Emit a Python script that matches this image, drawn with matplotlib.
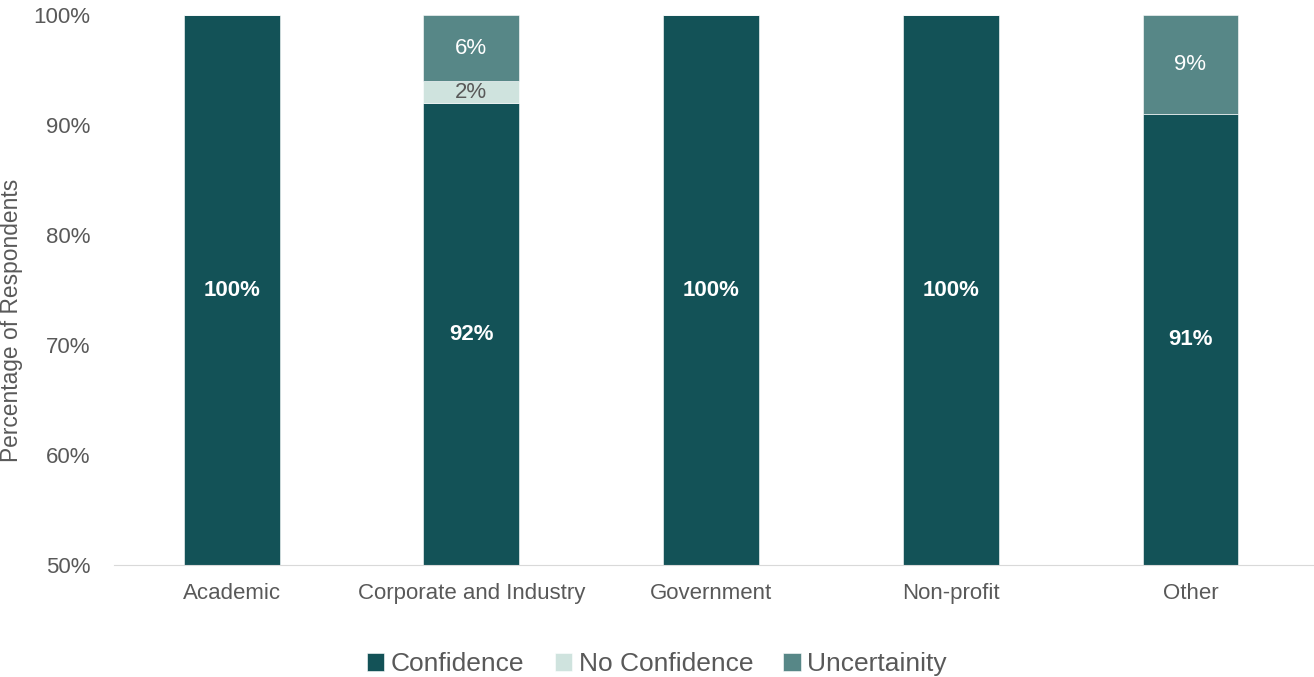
import numpy as np
import matplotlib.pyplot as plt
from matplotlib.ticker import PercentFormatter

categories = ['Academic', 'Corporate and Industry', 'Government', 'Non-profit', 'Other']
confidence = [100, 92, 100, 100, 91]
no_confidence = [0, 2, 0, 0, 0]
uncertainty = [0, 6, 0, 0, 9]

colors = {'Confidence': '#135257', 'No Confidence': '#cfe3de', 'Uncertainity': '#578787'}
text_gray = '#595959'

plt.rcParams['font.family'] = ['Liberation Sans', 'DejaVu Sans']
fs = 16

fig = plt.figure(figsize=(13.14, 6.77), dpi=100)
ax = fig.add_axes([0.087, 0.1654, 0.912, 0.8124])

x = np.arange(len(categories))
w = 0.4
conf = np.array(confidence)
noc = np.array(no_confidence)
unc = np.array(uncertainty)

ax.bar(x, conf, w, color=colors['Confidence'], label='Confidence', edgecolor='white', linewidth=0.4)
ax.bar(x, noc, w, bottom=conf, color=colors['No Confidence'], label='No Confidence',
       edgecolor='white', linewidth=0.4)
ax.bar(x, unc, w, bottom=conf + noc, color=colors['Uncertainity'], label='Uncertainity',
       edgecolor='white', linewidth=0.4)

ymin, ymax = 50, 100
ax.set_ylim(ymin, ymax)
ax.set_xlim(-0.49, 4.51)

# segment labels, centred on the visible part of each segment
for i in range(len(categories)):
    mid = (ymin + conf[i]) / 2
    ax.text(x[i], mid, f'{conf[i]}%', ha='center', va='center', color='white',
            fontsize=fs, fontweight='bold')
    if noc[i] > 0:
        ax.text(x[i], conf[i] + noc[i] / 2, f'{noc[i]}%', ha='center', va='center',
                color=text_gray, fontsize=fs)
    if unc[i] > 0:
        ax.text(x[i], conf[i] + noc[i] + unc[i] / 2, f'{unc[i]}%', ha='center', va='center',
                color='white', fontsize=fs)

ax.yaxis.set_major_formatter(PercentFormatter(decimals=0))
ax.set_yticks(range(50, 101, 10))
ax.set_xticks(x)
ax.set_xticklabels(categories)
ax.tick_params(axis='both', length=0, labelsize=fs, labelcolor=text_gray)
ax.tick_params(axis='x', pad=13)
ax.tick_params(axis='y', pad=17)
ax.set_ylabel('Percentage of Respondents', fontsize=16.4, color=text_gray)
ax.yaxis.set_label_coords(-0.076, 0.444)

for s in ['top', 'right', 'left']:
    ax.spines[s].set_visible(False)
ax.spines['bottom'].set_color('#d9d9d9')

fig.legend(loc='center', bbox_to_anchor=(0.5, 0.019), ncol=3, frameon=False,
           fontsize=19, handlelength=0.65, handleheight=0.65, handletextpad=0.25,
           columnspacing=1.15, labelcolor=text_gray)

fig.savefig('out.png', dpi=100)
